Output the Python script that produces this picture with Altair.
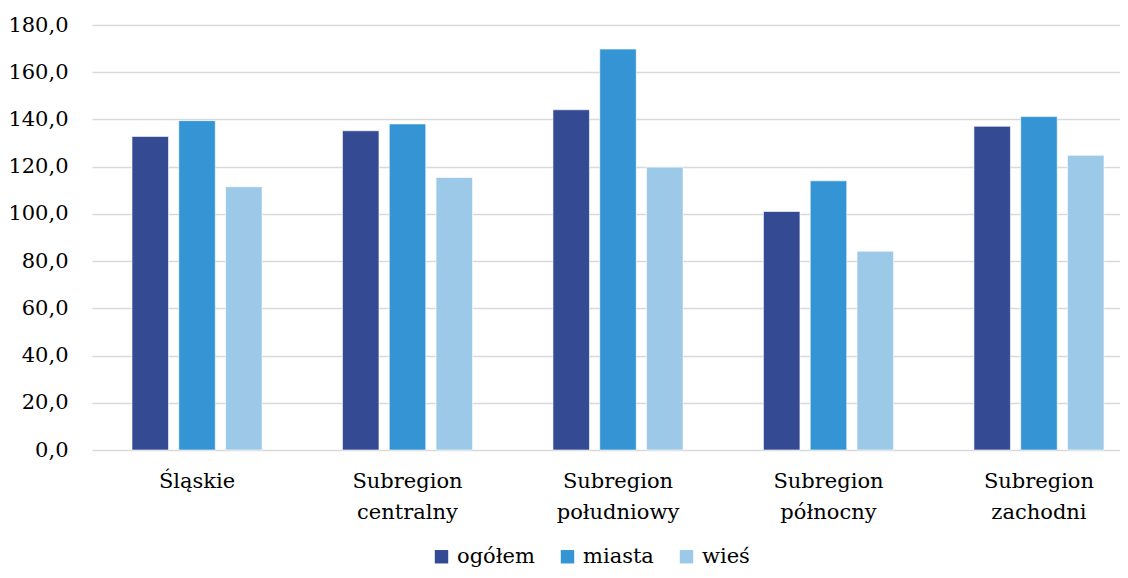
import altair as alt
import pandas as pd

categories = ["Śląskie", "Subregion centralny", "Subregion południowy", "Subregion północny", "Subregion zachodni"]
series = ["ogółem", "miasta", "wieś"]
ogolem = [132.8, 135.2, 144.1, 101.0, 137.1]
miasta = [139.5, 138.1, 169.8, 114.0, 141.2]
wies = [111.5, 115.4, 119.8, 84.2, 124.8]
colors = ["#344a93", "#3494d4", "#9cc9e8"]

rows = []
for vals, s in zip([ogolem, miasta, wies], series):
    for c, v in zip(categories, vals):
        rows.append({"region": c, "seria": s, "wartosc": v})
df = pd.DataFrame(rows)

FONT = "DejaVu Serif"
FS = 21

chart = alt.Chart(df).mark_bar(stroke="#ffffff", strokeWidth=1, strokeOpacity=0.6).encode(
    x=alt.X("region:N", sort=categories, title=None,
            scale=alt.Scale(paddingInner=0.382, paddingOuter=0.19, range=[0, 1052]),
            axis=alt.Axis(labelAngle=0, ticks=False, domain=False, labelFont=FONT,
                          labelFontSize=FS, labelColor="#000000", labelPadding=20,
                          labelLineHeight=31,
                          labelExpr="split(datum.label, ' ')")),
    xOffset=alt.XOffset("seria:N", sort=series,
                        scale=alt.Scale(paddingInner=0.22, paddingOuter=0)),
    y=alt.Y("wartosc:Q", title=None,
            scale=alt.Scale(domain=[0, 180], nice=False),
            axis=alt.Axis(values=list(range(0, 181, 20)),
                          labelExpr="replace(format(datum.value, '.1f'), '.', ',')",
                          ticks=False, domain=False, labelFont=FONT, labelFontSize=FS,
                          labelColor="#000000", labelPadding=24,
                          gridColor="#d9d9d9", gridWidth=1.5)),
    color=alt.Color("seria:N", sort=series,
                    scale=alt.Scale(domain=series, range=colors),
                    legend=alt.Legend(title=None, orient="none", direction="horizontal",
                                      legendX=339, legendY=521,
                                      symbolType="square", symbolSize=180,
                                      symbolStrokeWidth=0, labelFont=FONT,
                                      labelFontSize=FS, labelColor="#000000",
                                      columnPadding=22, labelOffset=5)),
).properties(
    width=1028, height=425,
    autosize=alt.AutoSizeParams(type="none"),
    padding={"left": 84, "top": 17, "right": 0, "bottom": 120},
).configure(font=FONT).configure_view(stroke=None)

chart.save("out.html", embed_options={"renderer": "svg", "actions": False})
